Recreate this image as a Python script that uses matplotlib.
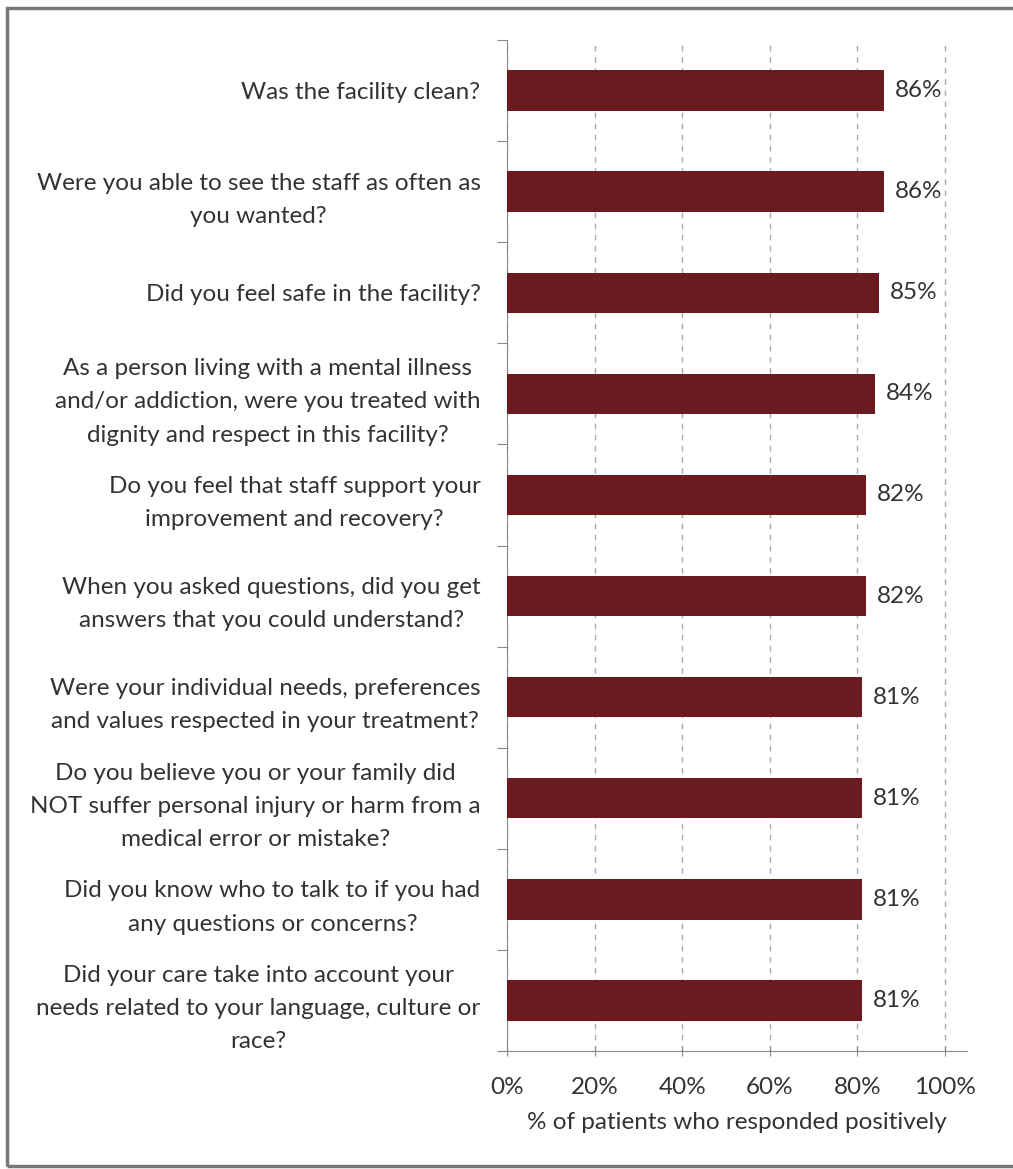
import matplotlib
matplotlib.use("Agg")
import matplotlib.pyplot as plt
from matplotlib.patches import Rectangle

plt.rcParams['font.family'] = ['Lato', 'DejaVu Sans']

questions = [
    "Was the facility clean?",
    "Were you able to see the staff as often as\nyou wanted?",
    "Did you feel safe in the facility?",
    "As a person living with a mental illness\nand/or addiction, were you treated with\ndignity and respect in this facility?",
    "Do you feel that staff support your\nimprovement and recovery?",
    "When you asked questions, did you get\nanswers that you could understand?",
    "Were your individual needs, preferences\nand values respected in your treatment?",
    "Do you believe you or your family did\nNOT suffer personal injury or harm from a\nmedical error or mistake?",
    "Did you know who to talk to if you had\nany questions or concerns?",
    "Did your care take into account your\nneeds related to your language, culture or\nrace?",
]
pct_positive = [86, 86, 85, 84, 82, 82, 81, 81, 81, 81]
x_ticks = [0, 20, 40, 60, 80, 100]

text_col = '#333333'
bar_col = '#6b1a1f'
fs = 17.5

fig = plt.figure(figsize=(10.13, 11.69), dpi=100)
ax = fig.add_axes([507 / 1013, 1 - 1051 / 1169, 460 / 1013, 1011 / 1169])

ypos = list(range(len(questions)))
ax.barh(ypos, pct_positive, height=0.4, color=bar_col, zorder=3)
for y, v in zip(ypos, pct_positive):
    ax.text(v + 2.5, y, f"{v}%", va='center', ha='left', fontsize=fs, color=text_col)

ax.set_ylim(len(questions) - 0.5, -0.5)
ax.set_xlim(0, 105)
ax.set_xticks(x_ticks)
ax.set_xticklabels([f"{t}%" for t in x_ticks], fontsize=fs, color=text_col)
ax.set_xlabel("% of patients who responded positively", fontsize=fs, color=text_col, labelpad=10)

# category labels on minor ticks, boundary tick marks on major ticks
ax.set_yticks([i - 0.5 for i in range(len(questions) + 1)])
ax.set_yticklabels([])
ax.set_yticks(ypos, minor=True)
ax.set_yticklabels(questions, minor=True, fontsize=fs, color=text_col,
                   multialignment='center', linespacing=1.72)
ax.tick_params(axis='y', which='minor', length=0, pad=19)
ax.tick_params(axis='y', which='major', length=7, color='#888888', direction='out')
ax.tick_params(axis='x', length=7, color='#888888', direction='inout', pad=15)

ax.grid(axis='x', linestyle=(0, (4, 4)), color='#aaaaaa', linewidth=1, zorder=0)
for s in ['top', 'right']:
    ax.spines[s].set_visible(False)
for s in ['left', 'bottom']:
    ax.spines[s].set_color('#888888')

fig.patches.append(Rectangle((7 / 1013, 3 / 1169), 1.0, 1 - 11 / 1169,
                             transform=fig.transFigure, fill=False,
                             edgecolor='#777777', linewidth=2.5))

fig.savefig("out.png", dpi=100, facecolor='white')
